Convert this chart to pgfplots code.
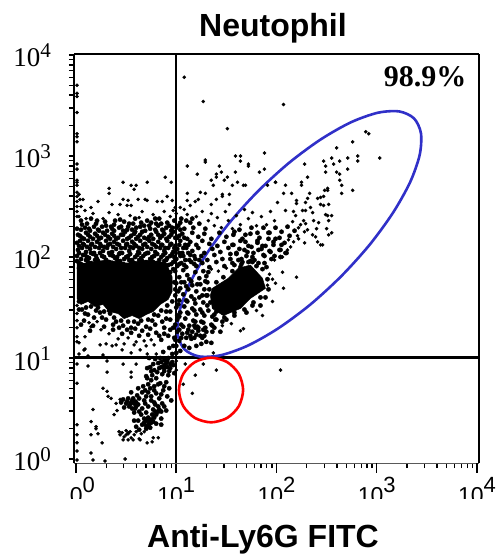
\documentclass[border=0pt]{standalone}
\usepackage{fontspec}
\usepackage{pgfplots}
\pgfplotsset{compat=1.18}
\setmainfont{Liberation Serif}
\newfontfamily\arial{Liberation Sans}
\newcommand\yl[1]{\fontsize{27}{27}\selectfont 10\raisebox{9pt}{\fontsize{21}{21}\selectfont #1}}
\newcommand\xl[1]{\arial\fontsize{23}{23}\selectfont 10\raisebox{10.5pt}{\fontsize{22}{22}\selectfont #1}}
\definecolor{gateblue}{RGB}{48,48,200}
\pgfplotsset{sparse/.style={only marks, mark=*, mark size=1.6pt, black, mark options={draw=none, fill=black}},
  dense/.style={only marks, mark=*, mark size=2.15pt, black, mark options={draw=none, fill=black}}}
\begin{document}
\begin{tikzpicture}
\path[use as bounding box] (0,0) rectangle (500pt,555pt);
\begin{axis}[
  at={(76pt,96pt)}, anchor=origin, 
  axis line style={draw=none},
  x=1.0025pt, y=1.01pt,
  xmin=-2, xmax=402, ymin=-4, ymax=401,
  clip=false,
  xtick={0,100,200,300,400},
  ytick={0,100,200,300,400},
  xticklabels={\xl{0},\xl{1},\xl{2},\xl{3},\xl{4}},
  yticklabels={\yl{0},\yl{1},\yl{2},\yl{3},\yl{4}},
  minor xtick={30.1,47.7,60.2,69.9,77.8,84.5,90.3,95.4,130.1,147.7,160.2,169.9,177.8,184.5,190.3,195.4,230.1,247.7,260.2,269.9,277.8,284.5,290.3,295.4,330.1,347.7,360.2,369.9,377.8,384.5,390.3,395.4},
  minor ytick={30.1,47.7,60.2,69.9,77.8,84.5,90.3,95.4,130.1,147.7,160.2,169.9,177.8,184.5,190.3,195.4,230.1,247.7,260.2,269.9,277.8,284.5,290.3,295.4,330.1,347.7,360.2,369.9,377.8,384.5,390.3,395.4},
  tick align=outside, tick pos=left,
  x tick style={black, line width=1.3pt},
  y tick style={black, line width=1.5pt},
  major tick length=5pt, minor tick length=5pt,
  xticklabel style={anchor=base, yshift=-35pt, inner sep=0pt},
  yticklabel style={anchor=base east, yshift=-12pt, xshift=-18pt, inner sep=0pt},
]
% density cores (value = 100 log10 of the signal)
\addplot[fill=black, draw=black, line width=0.5pt] coordinates {(1,194)(1,159)(5,153)(12,156)(19,151)(27,153)(33,146)(42,144)(48,139)(56,142)(63,139)(70,143)(77,146)(84,153)(92,158)(96,166)(96,180)(90,194)(70,197)(51,194)(30,197)(12,194)} -- cycle;
\addplot[fill=black, draw=black, line width=0.5pt] coordinates {(134,162)(136,169)(152,179)(162,189)(174,192)(186,179)(189,169)(174,159)(164,149)(147,142)(136,149)} -- cycle;
% individual events: sparse regions
\addplot[sparse] coordinates {
(108,378)(127,354)(151,327)(129,296)(129,294)(159,300)(164,300)(164,295)(188,303)(172,292)(172,290)(188,287)(183,284)
(111,290)(121,282)(143,290)(145,284)(159,284)(140,282)(140,279)(135,276)(151,279)(148,276)(137,271)(156,271)(161,274)(167,271)(169,271)(199,274)(191,271)
(1,370)(1,362)(1,359)(1,343)(1,322)(1,319)(1,314)(1,292)(1,287)(1,276)(1,274)(1,271)(89,279)(95,274)(71,274)(47,274)(33,268)(33,263)(55,271)(60,271)(58,267)
(207,351)(289,324)(292,322)(276,314)(260,308)(303,298)(281,300)(281,295)(271,298)(263,295)(255,298)(257,292)(247,295)(249,290)(249,284)(228,292)(271,287)(260,284)(263,282)(231,279)(263,276)(265,271)(225,274)(225,271)(199,274)(209,271)(276,266)(265,263)(251,268)(251,266)(248,266)(207,263)(215,263)(233,263)(231,258)(244,259)(247,260)(241,258)(220,256)(220,253)(201,254)(229,254)(234,249)(244,252)(247,251)(252,252)(249,242)(251,241)(255,241)(252,236)(229,246)(226,246)(209,246)(217,245)(219,241)(237,236)(242,234)(236,244)(252,222)(239,220)(244,212)(227,236)(224,232)(231,227)(221,221)(212,217)(217,215)(211,207)
(4,257)(7,257)(22,255)(15,249)(9,246)(36,252)(44,252)(47,257)(52,256)(51,251)(55,251)(62,257)(69,257)(71,256)(81,255)(86,255)(91,260)(96,256)(99,249)(97,246)(111,263)(111,256)(119,255)(122,257)(124,264)(129,263)(135,252)(140,257)(146,262)(146,260)(153,252)(153,262)(114,251)(104,249)(108,247)
(1,264)(1,260)(1,255)(1,250)(1,245)(1,240)(3,262)(5,250)
(3,240)(10,238)(17,243)(27,238)(33,244)(42,242)(54,241)(63,239)(66,245)(77,242)(88,245)(94,240)(100,243)(111,242)(120,240)(126,245)(135,243)(141,239)(149,245)(152,236)(160,241)(164,232)(168,247)(172,238)(176,244)(180,231)(185,240)(190,232)(194,245)(198,236)(145,229)(138,231)(132,236)(156,228)
(135,188)(142,186)(150,189)(198,197)(206,200)(193,183)(196,178)(191,172)(199,174)(206,185)(207,169)(220,180)(196,156)(180,147)(186,142)(164,127)(167,129)(155,134)(146,132)
(214,210)(222,218)(228,214)(216,235)(222,229)(228,225)(236,222)(241,215)(246,212)(255,224)(229,233)(250,228)(240,228)
(12,101)(1,94)(12,92)(31,97)(31,86)(47,94)(60,94)(55,86)(55,81)(1,75)(27,70)(31,67)(44,59)(41,48)(38,44)(17,49)(15,37)(20,32)(20,30)(1,24)(15,24)(22,25)(26,16)(1,16)(1,8)(15,6)(17,-1)(29,-2)(49,0)(43,27)(52,26)(47,19)(52,19)(57,19)(64,19)(71,16)(77,21)(82,21)(76,17)(1,-1)(1,34)(1,121)(1,116)(9,121)(9,109)(15,131)
(119,83)(116,65)(107,74)(140,88)(127,94)(137,105)(204,88)(109,94)(100,97)(100,88)(1,130)(1,137)(1,144)(1,152)
(3,115)(8,108)(3,104)(12,102)(27,103)(46,108)(55,105)(64,108)(71,104)(80,104)(30,114)(36,112)(24,113)(40,113)(48,114)(60,116)(70,112)(78,113)
(13,135)(21,136)(25,128)(33,124)(42,119)(52,120)(58,113)(68,117)(75,118)
(40,55)(35,60)(32,62)(50,28)(52,25)(58,24)(55,21)(48,22)(63,20)(50,24)(54,27)(60,27)(46,26)(44,24)(68,27)(65,25)
};
% individual events: dense regions
\addplot[dense] coordinates {
(6,232)(13,228)(20,233)(23,226)(30,231)(36,228)(39,236)(45,230)(48,235)(51,227)(57,233)(60,229)(68,231)(71,236)(74,228)(80,233)(83,238)(86,227)(91,234)(96,229)(98,236)(102,231)(105,238)(108,228)(114,234)(117,229)(123,233)(129,228)
(2,222)(6,219)(10,224)(14,220)(19,223)(23,218)(27,224)(32,220)(36,223)(40,218)(45,222)(49,225)(53,219)(58,223)(62,220)(66,225)(71,218)(75,222)(80,225)(84,219)(88,223)(93,220)(97,225)(101,219)(106,223)(111,218)(116,224)(122,220)(128,223)(135,218)(143,224)(150,220)(158,225)(166,218)(174,223)(183,219)(192,224)(199,218)
(1,214)(4,216)(8,212)(12,216)(16,213)(21,215)(25,211)(30,216)(34,213)(38,215)(43,212)(47,216)(51,213)(56,215)(60,211)(64,216)(69,213)(73,216)(78,212)(82,215)(86,212)(91,216)(95,213)(99,211)(104,216)(109,212)(114,215)(120,212)(126,216)(133,213)(141,211)(148,215)(156,212)(164,216)(172,211)(181,214)(189,211)(197,215)(205,212)
(2,207)(6,209)(10,205)(14,208)(18,204)(23,209)(27,206)(31,209)(36,205)(40,208)(44,204)(49,209)(53,206)(57,209)(62,205)(66,208)(71,204)(75,208)(79,205)(84,209)(88,206)(92,209)(97,205)(101,208)(106,204)(110,209)(116,206)(122,209)(128,204)(136,208)(144,205)(152,209)(160,204)(168,207)(177,204)(185,208)(194,205)(203,207)(210,204)
(1,201)(5,198)(9,202)(13,199)(17,203)(21,198)(26,201)(30,197)(34,202)(39,199)(43,203)(48,198)(52,201)(56,197)(61,202)(65,199)(69,203)(74,198)(78,201)(83,197)(87,202)(91,199)(96,203)(100,198)(104,201)(109,197)(114,202)(119,198)(125,201)(131,197)(138,202)(146,198)(154,203)(162,197)(170,201)(178,197)(187,202)(195,198)(204,200)
(3,194)(8,191)(12,195)(17,192)(22,196)(28,191)(33,195)(38,192)(44,196)(50,191)(55,195)(60,192)(66,196)(72,191)(77,195)(82,192)(88,196)(92,192)(97,195)(101,191)(105,194)(110,190)(115,195)(120,191)(126,194)(133,190)(140,195)(148,191)(156,194)(164,190)(172,195)(180,191)(188,194)
(1,228)(5,227)(9,229)(14,226)(18,230)(22,227)(26,230)(31,226)(35,230)(38,226)(43,229)(47,226)(52,230)(56,227)(59,225)(64,230)(69,226)(73,231)(79,227)(82,231)(87,226)(90,229)(95,226)(100,229)(104,227)
(4,221)(8,218)(12,222)(17,218)(21,221)(25,219)(29,222)(34,218)(38,221)(42,219)(47,222)(51,218)(55,221)(60,218)(64,222)(68,219)(73,220)(77,218)(82,222)(86,221)(90,218)(95,222)(99,219)(103,221)(108,219)
(3,211)(7,213)(11,210)(15,212)(19,210)(24,213)(28,210)(32,212)(37,210)(41,213)(45,209)(50,212)(54,210)(58,213)(63,209)(67,212)(71,210)(76,213)(80,210)(85,212)(89,209)(94,212)(98,209)(103,212)(107,209)(112,212)
(3,204)(7,202)(11,200)(15,204)(20,201)(24,204)(28,200)(33,204)(37,201)(41,200)(46,204)(50,200)(54,203)(59,200)(63,204)(67,201)(72,204)(76,200)(81,203)(85,200)(89,204)(94,201)(98,200)(103,204)(107,201)(112,204)(118,201)
(1,196)(5,193)(10,197)(15,194)(19,197)(25,194)(30,197)(36,194)(41,197)(47,193)(53,197)(58,194)(63,197)(69,193)(75,197)(80,194)(85,193)(90,197)(95,193)(99,197)(103,193)(108,192)(113,197)(118,193)(123,197)
(5,236)(11,233)(15,238)(21,236)(29,235)(38,232)(44,237)(53,233)(59,238)(65,234)(75,234)(79,238)(85,233)(93,231)(104,234)(110,236)(116,238)
(3,189)(9,188)(14,190)(20,188)(26,189)(31,188)(36,190)(42,188)(48,190)(54,188)(62,189)(68,188)(74,190)(80,188)(86,190)(90,187)(94,185)(97,188)
(99,186)(103,180)(107,187)(111,182)(115,176)(119,185)(123,179)(127,186)(130,181)(100,174)(104,169)(108,175)(112,168)(116,172)(120,166)(124,173)(128,168)(131,175)(99,162)(103,157)(107,163)(111,156)(115,161)(119,154)(123,160)(127,155)(130,162)(100,150)(104,145)(108,151)(112,144)(116,149)(120,143)(124,148)(128,142)(132,147)(136,141)(140,146)(101,138)(105,133)(109,139)(113,132)(117,137)(121,131)(125,136)(129,130)
(105,175)(113,178)(121,173)(129,176)(132,185)(102,166)(110,171)(118,158)(126,162)(133,168)(102,153)(110,157)(118,147)(126,145)(134,155)(103,141)(111,145)(119,136)(127,135)(135,133)(139,138)(103,128)(107,131)(111,125)(105,120)(124,122)(130,126)(138,130)(144,126)(146,136)(125,114)(130,116)
(158,192)(166,195)(174,196)(182,194)(190,190)(189,160)(184,152)(176,152)(170,145)(158,142)(150,138)(140,138)(136,132)(136,126)(126,120)(120,123)(115,119)(122,130)(118,132)(127,128)
(140,175)(147,180)(156,186)(165,193)(176,195)(186,188)(191,178)(192,168)(184,160)(177,155)(168,148)(158,145)(148,140)(138,143)(131,152)(131,162)
(154,198)(160,203)(165,198)(171,205)(176,200)(182,207)(188,201)(193,206)(198,201)(204,207)(209,204)(157,212)(163,208)(169,215)(175,210)(181,216)(186,211)(192,218)(197,212)(203,219)(208,214)(213,221)(157,222)(163,227)(169,222)(175,229)(181,224)(187,229)(193,224)(199,229)(205,225)(211,230)(218,226)
(6,148)(12,143)(20,147)(26,140)(34,144)(40,136)(47,132)(55,130)(62,134)(70,131)(76,137)(82,142)(90,146)(94,138)(97,130)(88,130)(80,125)(72,123)(63,122)(55,125)(46,124)(37,128)(28,131)(17,132)(14,127)(5,133)(92,122)(85,118)(98,120)(100,112)(93,110)(87,106)(96,104)(97,112)
(3,156)(10,150)(15,151)(22,150)(28,146)(33,147)(38,140)(45,137)(52,136)(58,136)(65,137)(72,138)(78,143)(85,147)(91,152)(96,156)(99,168)(98,175)(3,148)(9,144)(18,140)(24,145)(30,138)(37,133)(43,130)(51,128)(59,129)(66,127)(74,129)(79,133)(86,136)(90,139)(94,146)(8,137)(83,122)(88,124)(94,128)
(112,128)(116,126)(119,130)(122,127)(114,122)(118,120)(110,120)(106,124)(103,117)(108,112)(104,107)(113,110)(120,112)(128,122)(135,115)(100,105)(99,118)(101,126)(99,133)(101,142)
(85,96)(88,93)(91,97)(94,94)(88,90)(91,91)(94,90)(97,93)(85,91)(82,95)(79,99)(84,100)(73,100)(77,94)(71,90)(75,87)(81,86)(86,84)(92,83)(98,85)(80,80)(75,78)(70,82)(72,74)(67,72)(78,72)(84,75)(90,76)(62,70)(66,66)(72,66)(80,65)(87,68)(93,70)(61,63)(55,66)(59,57)(63,60)(68,58)(75,58)(83,60)(52,60)(55,56)(47,59)(50,55)(53,52)(48,51)(45,56)(56,50)(60,52)(66,50)(72,52)(79,54)(86,55)(65,44)(70,46)(76,44)(82,47)(62,38)(68,40)(72,38)(66,34)(75,36)(78,41)(60,32)(70,30)(73,32)(63,29)(85,40)(90,48)(95,58)
(56,58)(58,55)(54,54)(60,56)(57,60)(51,57)(62,54)(59,50)(70,38)(73,35)(68,36)(72,41)(75,39)(70,33)(74,31)(77,37)(80,44)(83,49)(79,47)(85,47)(82,52)(77,49)(88,52)(75,62)(70,62)(78,68)(74,70)(69,68)(71,80)(76,83)(74,91)(78,88)(83,90)(88,87)(93,87)(90,95)(88,98)(92,100)(96,96)(82,74)(88,72)(85,64)(91,62)(78,56)(69,55)(63,47)(58,46)(80,35)(85,34)(58,38)
};
% quadrant lines
\addplot[black, line width=2.5pt] coordinates {(100,-14)(100,401)};
\addplot[black, line width=2.5pt] coordinates {(-2,100.5)(402,100.5)};
% gates
\addplot[gateblue, line width=2.6pt, smooth cycle] coordinates {
(337.2,337.2)(322.5,344.1)(301.0,342.8)(274.1,333.3)(243.8,316.2)(212.0,292.8)(181.0,264.6)(152.8,233.6)(129.4,201.8)(112.3,171.5)(102.8,144.6)(101.5,123.1)(108.4,108.4)(123.1,101.5)(144.6,102.8)(171.5,112.3)(201.8,129.4)(233.6,152.8)(264.6,181.0)(292.8,212.0)(316.2,243.8)(333.3,274.1)(342.8,301.0)(344.1,322.5)};
\addplot[red, line width=2.6pt, smooth cycle] coordinates {
(166.7,68.3)(162.4,84.3)(150.7,96.0)(134.7,100.3)(118.7,96.0)(107.0,84.3)(102.7,68.3)(107.0,52.3)(118.7,40.6)(134.7,36.3)(150.7,40.6)(162.4,52.3)};
% frame and long decade ticks
\draw[black, line width=2.6pt] (rel axis cs:0,0) -- (rel axis cs:0,1);
\draw[black, line width=2pt] (rel axis cs:0,1) -- (rel axis cs:1,1);
\draw[black, line width=1.2pt] (rel axis cs:1,1) -- (rel axis cs:1,0);
\draw[black!65, line width=0.8pt] (rel axis cs:0,0) -- (rel axis cs:1,0);
\draw[black, line width=1.3pt] (axis cs:0,-4) -- (axis cs:0,-14);
\draw[black, line width=1.3pt] (axis cs:200,-4) -- (axis cs:200,-14);
\draw[black, line width=1.3pt] (axis cs:300,-4) -- (axis cs:300,-14);
\draw[black, line width=1.3pt] (axis cs:400,-4) -- (axis cs:400,-14);
\end{axis}
% the source image crops the lower-axis labels
\fill[white] (50pt,45pt) rectangle (500pt,56pt);
\fill[white] (50pt,50pt) rectangle (69.5pt,81pt);
\node[anchor=base, inner sep=0pt] at (273pt,518pt) {\arial\bfseries\fontsize{32}{32}\selectfont Neutophil};
\node[anchor=base, inner sep=0pt] at (263pt,8pt) {\arial\bfseries\fontsize{32}{32}\selectfont Anti-Ly6G FITC};
\node[anchor=base, inner sep=0pt] at (425pt,468pt) {\bfseries\fontsize{30}{30}\selectfont 98.9\%};
\end{tikzpicture}
\end{document}
